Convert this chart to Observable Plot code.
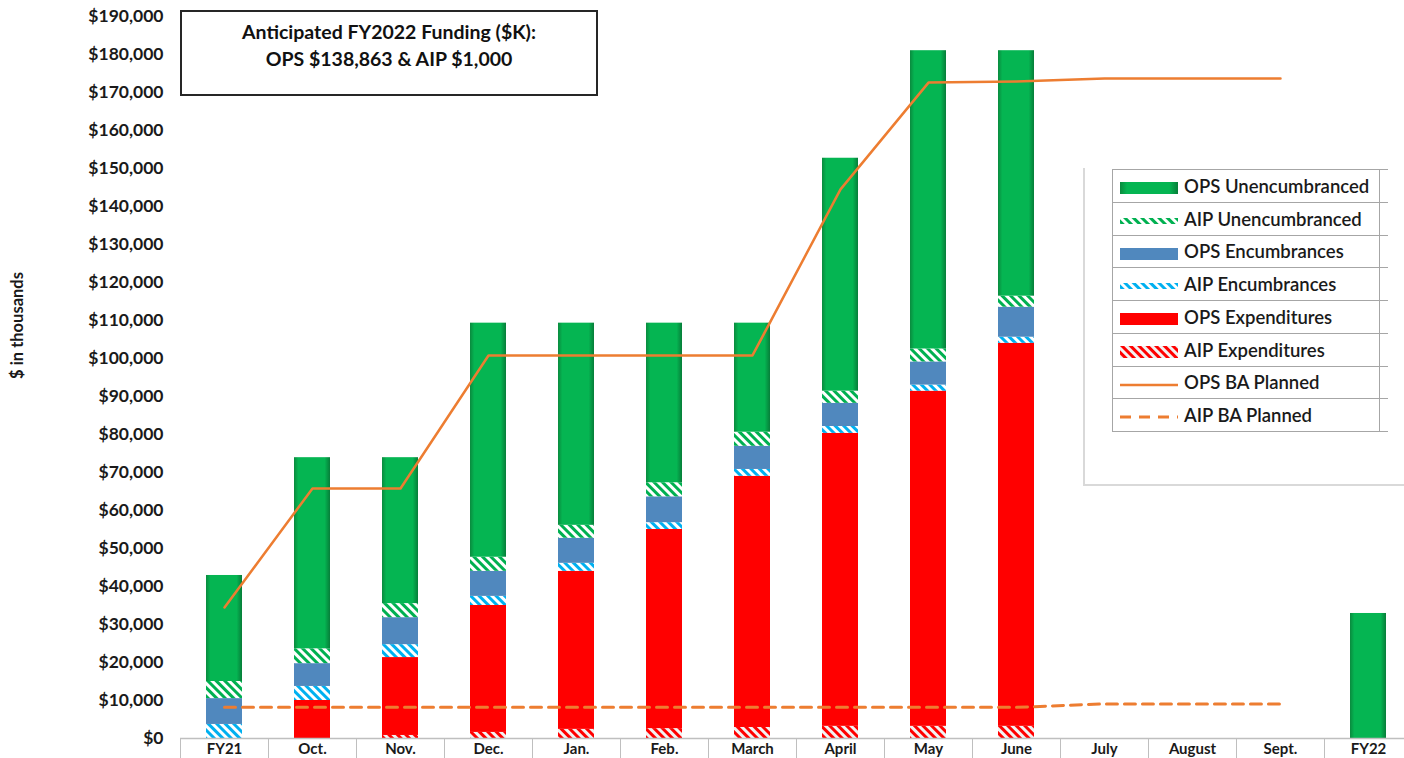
<!DOCTYPE html>
<html>
<head>
<meta charset="utf-8">
<script src="https://cdn.jsdelivr.net/npm/d3@7"></script>
<script src="https://cdn.jsdelivr.net/npm/@observablehq/plot@0.6"></script>
<style>
  body { margin: 0; background: #fff; font-family: Lato, "Open Sans", sans-serif; }
  #wrap { position: relative; width: 1404px; height: 758px; overflow: hidden; }
  #titlebox { position: absolute; left: 180px; top: 10px; width: 418px; height: 86px; border: 2px solid #262626;
    font-weight: bold; font-size: 19.5px; color: #111; text-align: center; line-height: 27px; padding-top: 6px; box-sizing: border-box; }
  #frame { position: absolute; left: 1083px; top: 168px; width: 340px; height: 316px; border-left: 2px solid #d9d9d9; border-bottom: 2px solid #d9d9d9; }
  #legend { position: absolute; left: 1112px; top: 169px; border-collapse: collapse; }
  #legend td { border: 1px solid #a6a6a6; height: 31.75px; padding: 0; font-size: 18.5px; font-weight: 600; color: #1a1a1a; white-space: nowrap; }
  #legend td.main { width: 266px; }
  #legend td.extra { width: 8px; border-right: none; }
  #legend svg { vertical-align: middle; margin-left: 7px; margin-right: 6px; }
</style>
</head>
<body>
<svg width="0" height="0" style="position:absolute">
  <defs>
    <linearGradient id="gOps" x1="0" y1="0" x2="1" y2="0">
      <stop offset="0" stop-color="#0a8a3e"/>
      <stop offset="0.12" stop-color="#05b552"/>
      <stop offset="0.85" stop-color="#05b552"/>
      <stop offset="1" stop-color="#077d39"/>
    </linearGradient>
    <pattern id="hGreen" patternUnits="userSpaceOnUse" width="6" height="6" patternTransform="rotate(-45)">
      <rect width="6" height="6" fill="#ffffff"/><rect width="3" height="6" fill="#00b050"/>
    </pattern>
    <pattern id="hCyan" patternUnits="userSpaceOnUse" width="6" height="6" patternTransform="rotate(-45)">
      <rect width="6" height="6" fill="#ffffff"/><rect width="3" height="6" fill="#00b0f0"/>
    </pattern>
    <pattern id="hRed" patternUnits="userSpaceOnUse" width="6" height="6" patternTransform="rotate(-45)">
      <rect width="6" height="6" fill="#f2f2f2"/><rect width="3" height="6" fill="#ff0000"/>
    </pattern>
  </defs>
</svg>
<div id="wrap">
  <div id="chart"></div>
  <div id="titlebox">Anticipated FY2022 Funding ($K):<br>OPS $138,863 &amp; AIP $1,000</div>
  <div id="frame"></div>
  <table id="legend"></table>
</div>
<script>
// ---- Data ($ in thousands) ----
const categories = ["FY21","Oct.","Nov.","Dec.","Jan.","Feb.","March","April","May","June","July","August","Sept.","FY22"];
const aipExpenditures  = [0, 0, 800, 1600, 2400, 2600, 2900, 3200, 3200, 3200, 0, 0, 0, 0];
const opsExpenditures  = [0, 10000, 20500, 33400, 41600, 52400, 66100, 77100, 88200, 100800, 0, 0, 0, 0];
const aipEncumbrances  = [3700, 3700, 3400, 2400, 2100, 1800, 1800, 1800, 1600, 1600, 0, 0, 0, 0];
const opsEncumbrances  = [6800, 6000, 7100, 6600, 6600, 6800, 6100, 6100, 6100, 7900, 0, 0, 0, 0];
const aipUnencumbranced = [4500, 3900, 3700, 3700, 3400, 3700, 3700, 3200, 3400, 2900, 0, 0, 0, 0];
const opsUnencumbranced = [27900, 50300, 38400, 61600, 53200, 42000, 28700, 61300, 78500, 64600, 0, 0, 0, 32900];
const opsBAPlanned = [34500, 65800, 65800, 100800, 100800, 100800, 100800, 144500, 172600, 172900, 173700, 173700, 173700, null];
const aipBAPlanned = [8200, 8200, 8200, 8200, 8200, 8200, 8200, 8200, 8200, 8200, 9100, 9100, 9100, null];
const yTicks = d3.range(0, 190001, 10000);

// stacking order bottom -> top
const stackSeries = [
  {name: "AIP Expenditures", values: aipExpenditures, fill: "url(#hRed)"},
  {name: "OPS Expenditures", values: opsExpenditures, fill: "#ff0000"},
  {name: "AIP Encumbrances", values: aipEncumbrances, fill: "url(#hCyan)"},
  {name: "OPS Encumbrances", values: opsEncumbrances, fill: "#5088be"},
  {name: "AIP Unencumbranced", values: aipUnencumbranced, fill: "url(#hGreen)"},
  {name: "OPS Unencumbranced", values: opsUnencumbranced, fill: "url(#gOps)"}
];
const stackData = stackSeries.flatMap(s => categories.map((c, i) => ({category: c, series: s.name, value: s.values[i]})));
const opsLine = categories.map((c, i) => ({category: c, value: opsBAPlanned[i]})).filter(d => d.value != null);
const aipLine = categories.map((c, i) => ({category: c, value: aipBAPlanned[i]})).filter(d => d.value != null);

const W = 1404, H = 758, ML = 180, MR = -8;
const step = (W - MR - ML) / categories.length;

const chart = Plot.plot({
  width: W, height: H,
  marginLeft: ML, marginRight: MR, marginTop: 16, marginBottom: 20,
  style: {fontFamily: "Lato, 'Open Sans', sans-serif", background: "transparent", overflow: "visible"},
  x: {domain: categories, paddingInner: 0.59, paddingOuter: 0.295, label: null},
  y: {domain: [0, 190000], label: null},
  color: {type: "ordinal", domain: stackSeries.map(s => s.name), range: stackSeries.map(s => s.fill)},
  marks: [
    Plot.barY(stackData, Plot.stackY({x: "category", y: "value", fill: "series", order: stackSeries.map(s => s.name)})),
    Plot.ruleY([0], {stroke: "#bfbfbf", strokeWidth: 1.5}),
    Plot.line(aipLine, {x: "category", y: "value", stroke: "#ed7d31", strokeWidth: 3, strokeDasharray: "11,7"}),
    Plot.line(opsLine, {x: "category", y: "value", stroke: "#ed7d31", strokeWidth: 2.5}),
    Plot.axisY({ticks: yTicks, tickFormat: d => "$" + d3.format(",")(d), tickSize: 0, tickPadding: 17, fontSize: 17.5, fontWeight: "bold", fill: "#1a1a1a"}),
    Plot.axisX({tickSize: 20, tickFormat: () => "", dx: -step / 2, stroke: "#bfbfbf"}),
    Plot.axisX({tickSize: 0, tickPadding: 5, fontSize: 15, fontWeight: "bold", fill: "#1a1a1a"}),
    Plot.text(["$ in thousands"], {frameAnchor: "left", textAnchor: "middle", dx: -163, dy: -52, rotate: -90, fontSize: 16.5, fontWeight: "bold", fill: "#1a1a1a"})
  ]
});
document.getElementById("chart").appendChild(chart);

// ---- Legend ----
const legendItems = [
  {label: "OPS Unencumbranced", type: "rect", fill: "url(#gOps)"},
  {label: "AIP Unencumbranced", type: "rect", fill: "url(#hGreen)", pattern: true},
  {label: "OPS Encumbrances", type: "rect", fill: "#5088be"},
  {label: "AIP Encumbrances", type: "rect", fill: "url(#hCyan)", pattern: true},
  {label: "OPS Expenditures", type: "rect", fill: "#ff0000"},
  {label: "AIP Expenditures", type: "rect", fill: "url(#hRed)"},
  {label: "OPS BA Planned", type: "line"},
  {label: "AIP BA Planned", type: "dash"}
];
const table = document.getElementById("legend");
for (const it of legendItems) {
  const tr = document.createElement("tr");
  let sw;
  if (it.type === "rect") {
    sw = `<svg width="58" height="12"><rect x="0" y="${it.pattern ? 3 : 0}" width="58" height="${it.pattern ? 6 : 12}" fill="${it.fill}"/></svg>`;
  } else if (it.type === "line") {
    sw = `<svg width="58" height="12"><line x1="0" x2="58" y1="6" y2="6" stroke="#ed7d31" stroke-width="2.5"/></svg>`;
  } else {
    sw = `<svg width="58" height="12"><line x1="0" x2="58" y1="6" y2="6" stroke="#ed7d31" stroke-width="3" stroke-dasharray="11,8"/></svg>`;
  }
  tr.innerHTML = `<td class="main">${sw}${it.label}</td><td class="extra"></td>`;
  table.appendChild(tr);
}
</script>
</body>
</html>
